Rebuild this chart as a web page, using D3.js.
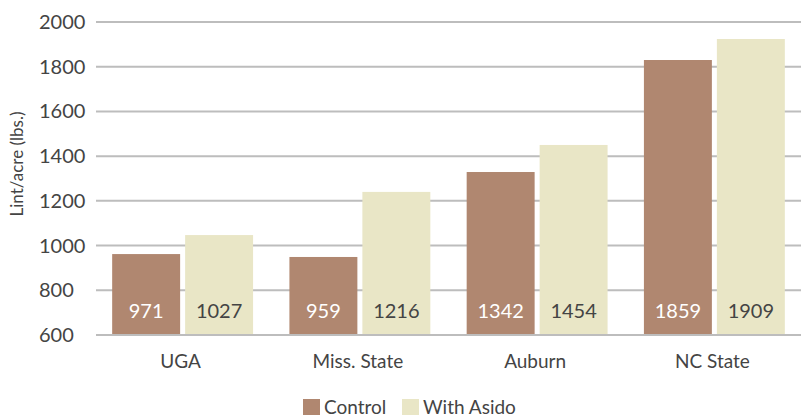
<!DOCTYPE html>
<html>
<head>
<meta charset="utf-8">
<script src="https://cdn.jsdelivr.net/npm/d3@7"></script>
<style>
  html, body { margin: 0; padding: 0; background: #fff; }
  svg { display: block; font-family: Lato, "Open Sans", sans-serif; }
</style>
</head>
<body>
<svg id="chart" width="801" height="417"></svg>
<script>
const categories = ["UGA", "Miss. State", "Auburn", "NC State"];
const seriesNames = ["Control", "With Asido"];
// bar heights as drawn in the picture
const controlValues = [962, 949, 1329, 1830];
const asidoValues = [1047, 1240, 1450, 1924];
// printed value labels
const controlLabels = ["971", "959", "1342", "1859"];
const asidoLabels = ["1027", "1216", "1454", "1909"];
const yTicks = [600, 800, 1000, 1200, 1400, 1600, 1800, 2000];

const colors = ["#b08770", "#e9e6c6"];
const labelColors = ["#ffffff", "#444444"];

const svg = d3.select("#chart");
const gridLeft = 96, gridRight = 801;
const y = d3.scaleLinear().domain([600, 2000]).range([335, 22]);
const x0 = d3.scaleBand().domain(categories).range([94, 803])
  .paddingInner(0.205).paddingOuter(0.1025);
const x1 = d3.scaleBand().domain(seriesNames).range([0, x0.bandwidth()])
  .paddingInner(0.0685).paddingOuter(0);

// gridlines
const yAxis = d3.axisLeft(y).tickValues(yTicks).tickSize(0).tickFormat(d3.format("d"));
svg.append("g").selectAll("line").data(yTicks).join("line")
  .attr("x1", gridLeft).attr("x2", gridRight)
  .attr("y1", d => y(d)).attr("y2", d => y(d))
  .attr("stroke", "#bdbdbd").attr("stroke-width", 2);

// y tick labels (left aligned)
svg.append("g").selectAll("text").data(yTicks).join("text")
  .attr("x", 39).attr("y", d => y(d)).attr("dy", "0.35em")
  .attr("fill", "#444").attr("font-size", 20)
  .text(d => yAxis.tickFormat()(d));

// bars
const rows = categories.map((c, i) => ({
  cat: c,
  vals: [
    {s: seriesNames[0], v: controlValues[i], lab: controlLabels[i], k: 0},
    {s: seriesNames[1], v: asidoValues[i], lab: asidoLabels[i], k: 1}
  ]
}));
const g = svg.append("g").selectAll("g").data(rows).join("g")
  .attr("transform", d => `translate(${x0(d.cat)},0)`);
g.selectAll("rect").data(d => d.vals).join("rect")
  .attr("x", d => x1(d.s)).attr("width", x1.bandwidth())
  .attr("y", d => y(d.v)).attr("height", d => y(600) - y(d.v))
  .attr("fill", d => colors[d.k]);
g.selectAll("text").data(d => d.vals).join("text")
  .attr("x", d => x1(d.s) + x1.bandwidth() / 2).attr("y", 318)
  .attr("text-anchor", "middle").attr("font-size", 20)
  .attr("fill", d => labelColors[d.k])
  .text(d => d.lab);

// bottom axis line
svg.append("line").attr("x1", gridLeft).attr("x2", gridRight)
  .attr("y1", y(600)).attr("y2", y(600))
  .attr("stroke", "#bdbdbd").attr("stroke-width", 2);

// x labels
svg.append("g").selectAll("text").data(categories).join("text")
  .attr("x", d => x0(d) + x0.bandwidth() / 2 - 2).attr("y", 368)
  .attr("text-anchor", "middle").attr("font-size", 19).attr("fill", "#444")
  .text(d => d);

// y title
svg.append("text")
  .attr("transform", "translate(23,164) rotate(-90)")
  .attr("text-anchor", "middle").attr("font-size", 17).attr("fill", "#444")
  .text("Lint/acre (lbs.)");

// legend
const legend = [
  {name: seriesNames[0], x: 303, k: 0},
  {name: seriesNames[1], x: 402, k: 1}
];
const lg = svg.append("g").selectAll("g").data(legend).join("g")
  .attr("transform", d => `translate(${d.x},399)`);
lg.append("rect").attr("width", 17).attr("height", 16).attr("fill", d => colors[d.k]);
lg.append("text").attr("x", 21).attr("y", 14.5).attr("font-size", 19).attr("fill", "#444")
  .text(d => d.name);
</script>
</body>
</html>
